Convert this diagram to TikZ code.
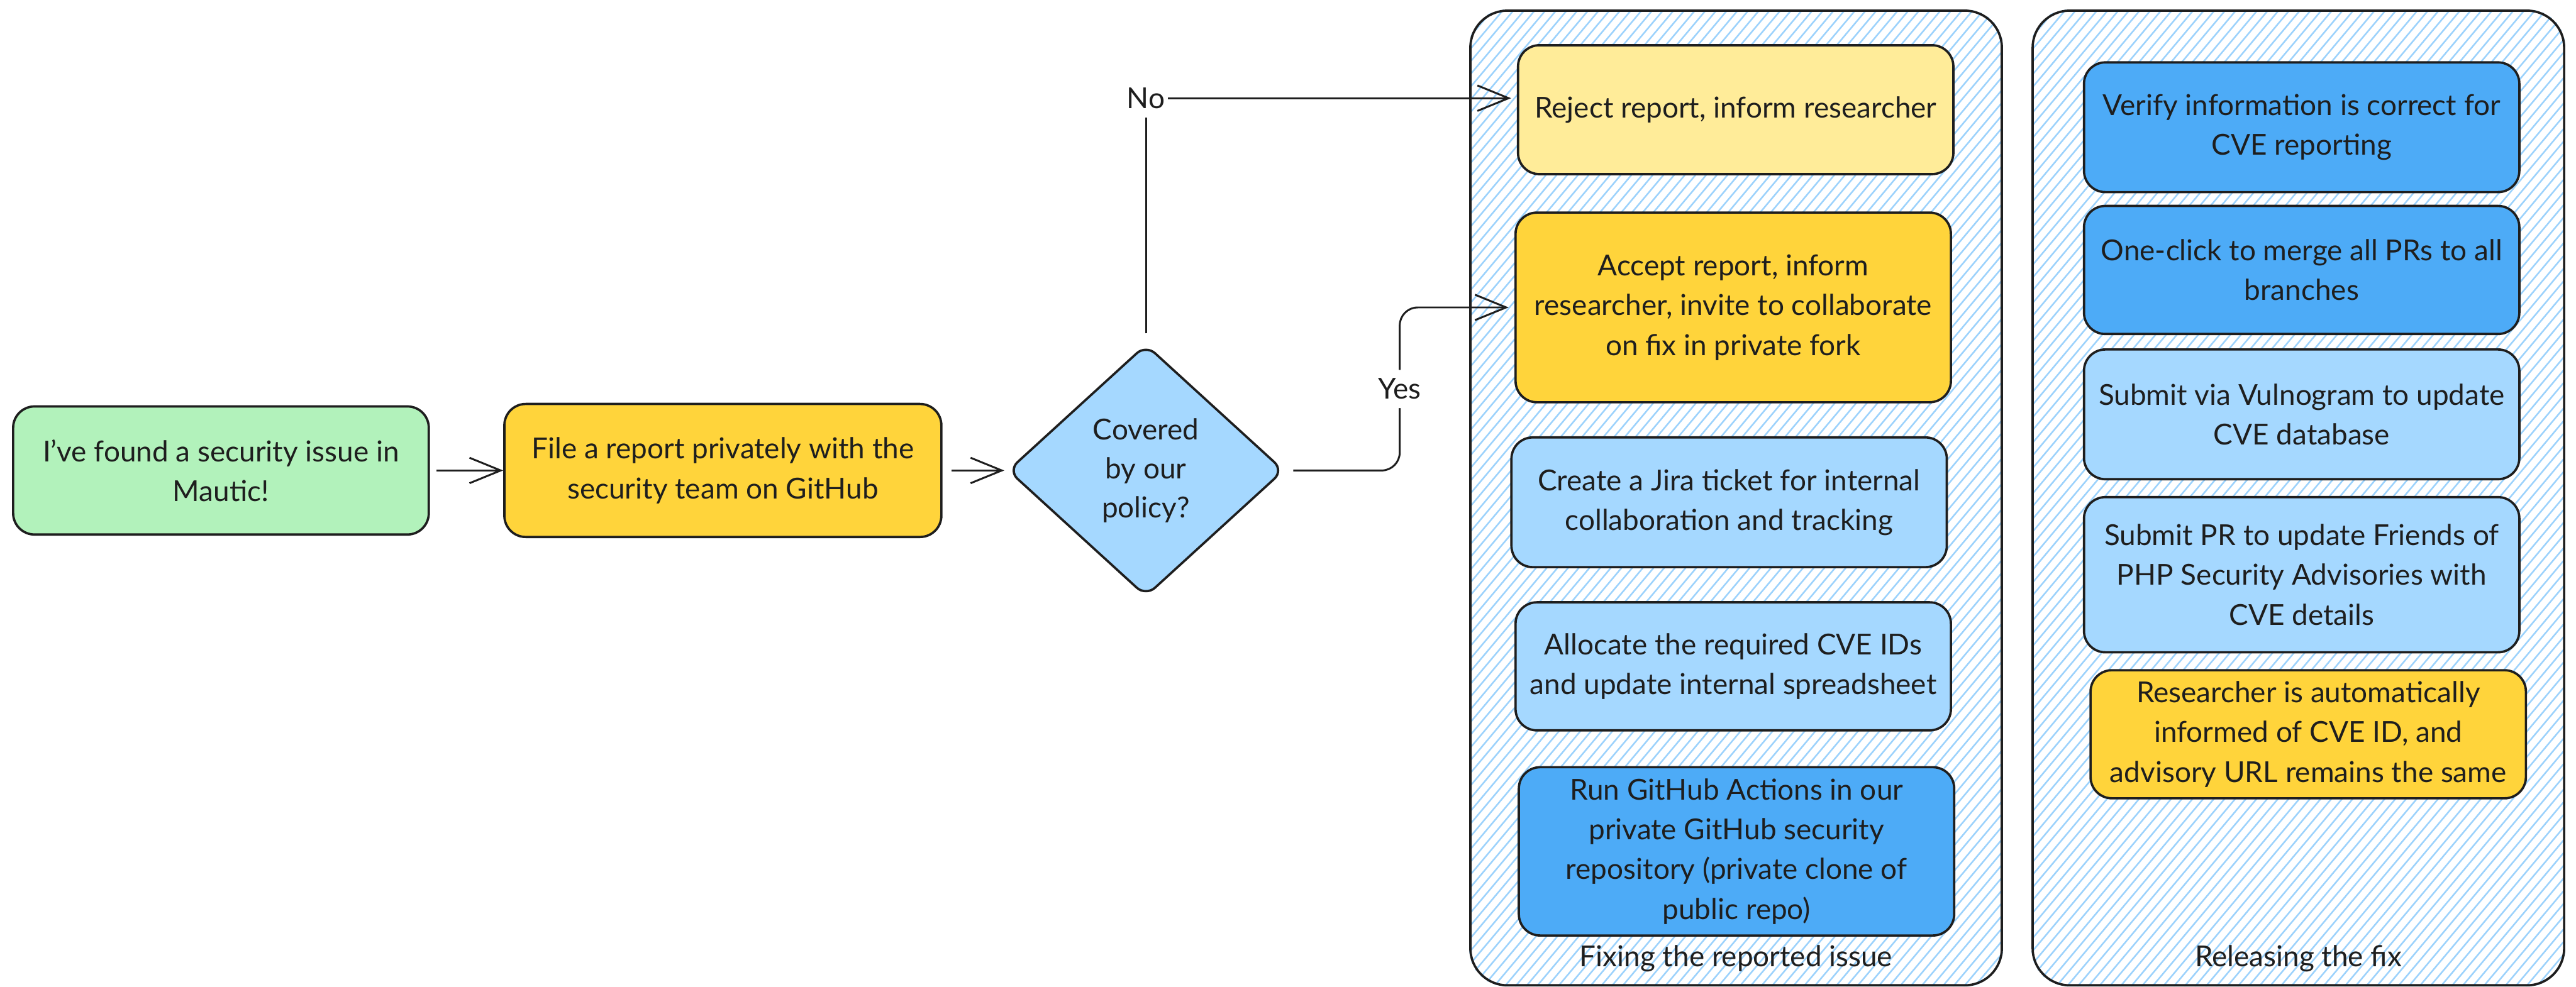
\documentclass[tikz,border=0pt]{standalone}
\usepackage{fontspec}
\setmainfont{Lato}
\usetikzlibrary{arrows.meta,positioning,shapes.geometric,calc,backgrounds}
\definecolor{ink}{HTML}{1E1E1E}
\definecolor{mint}{HTML}{B2F2BB}
\definecolor{amber}{HTML}{FFD43B}
\definecolor{cream}{HTML}{FFEC99}
\definecolor{sky}{HTML}{A5D8FF}
\definecolor{azure}{HTML}{4DABF7}
\definecolor{hatchblue}{HTML}{9CD2FC}

\begin{document}
\begin{tikzpicture}[
  card/.style={draw=ink, line width=0.8pt, rounded corners=0.26cm, align=center, text=ink,
    font=\fontsize{10}{13.8}\selectfont, inner sep=2pt, minimum width=5.3cm, minimum height=1.56cm},
  lane/.style={draw=ink, line width=0.8pt, rounded corners=0.45cm, minimum width=6.47cm, minimum height=11.87cm},
  decide/.style={diamond, draw=ink, fill=sky, line width=0.8pt, rounded corners=0.15cm, align=center,
    text=ink, font=\fontsize{10}{13.5}\selectfont, inner sep=0pt, minimum width=3.36cm, minimum height=3.07cm},
  lanelbl/.style={text=ink, font=\fontsize{10}{12}\selectfont},
  lbl/.style={fill=white, text=ink, font=\fontsize{10}{12}\selectfont, inner xsep=1pt, inner ysep=3pt},
  arrow/.style={-{Straight Barb[length=3.8mm, width=3.1mm]}, draw=ink, line width=0.65pt},
  hatchline/.style={draw=hatchblue, line width=0.55pt}]

\path[use as bounding box] (0,0) rectangle (31.36,12.02);

\node[lane] (fixC) at (21.135,5.955) {};
\node[lane] (relC) at (27.98,5.955) {};

\begin{scope}[on background layer]
  \fill[white] (0,0) rectangle (31.36,12.02);
  \foreach \lane in {fixC,relC} {
    \begin{scope}
      \clip[rounded corners=0.45cm] (\lane.south west) rectangle (\lane.north east);
      \foreach \k in {0,...,132}
        \draw[hatchline] ($(\lane.south west)+(\k*0.13-10.1,0)$) -- ++(10,11.9);
    \end{scope}
  }
\end{scope}

\node[card, fill=mint, minimum width=5.06cm] (found) at (2.69,6.29)
  {I've found a security issue in\\Mautic!};
\node[card, fill=amber, minimum width=5.32cm, minimum height=1.62cm] (report) at (8.80,6.29)
  {File a report privately with the\\security team on GitHub};
\node[decide] (decide) at (13.95,6.29) {Covered\\by our\\policy?};

\node[card, fill=cream, minimum height=1.57cm] (reject) at (21.13,10.684)
  {Reject report, inform researcher};
\node[card, fill=amber, minimum height=2.31cm, below=0.44cm of reject, xshift=-0.03cm]
  (accept) {Accept report, inform\\researcher, invite to collaborate\\on fix in private fork};
\node[card, fill=sky, minimum height=1.58cm, below=0.40cm of accept, xshift=-0.05cm]
  (jira) {Create a Jira ticket for internal\\collaboration and tracking};
\node[card, fill=sky, below=0.40cm of jira, xshift=0.05cm]
  (cveids) {Allocate the required CVE IDs\\and update internal spreadsheet};
\node[card, fill=azure, minimum height=2.05cm, below=0.42cm of cveids, xshift=0.04cm]
  (actions) {Run GitHub Actions in our\\private GitHub security\\repository (private clone of\\public repo)};
\node[lanelbl] (fixT) at ($(fixC.south)+(0,0.34)$) {Fixing the reported issue};

\node[card, fill=azure, minimum height=1.58cm] (verify) at (28.02,10.47)
  {Verify information is correct for\\CVE reporting};
\node[card, fill=azure, below=0.14cm of verify]
  (merge) {One-click to merge all PRs to all\\branches};
\node[card, fill=sky, minimum height=1.58cm, below=0.16cm of merge]
  (vulnogram) {Submit via Vulnogram to update\\CVE database};
\node[card, fill=sky, minimum height=1.89cm, below=0.19cm of vulnogram]
  (friends) {Submit PR to update Friends of\\PHP Security Advisories with\\CVE details};
\node[card, fill=amber, below=0.19cm of friends, xshift=0.08cm]
  (informed) {Researcher is automatically\\informed of CVE ID, and\\advisory URL remains the same};
\node[lanelbl] (relT) at ($(relC.south)+(0,0.34)$) {Releasing the fix};

\coordinate (yesbend) at ($(decide.east)!0.5!(accept.west)$);

\draw[arrow, shorten <=0.08cm] (found) -- (report);
\draw[arrow, shorten <=0.11cm, shorten >=0.03cm] (report) -- (decide);
\draw[arrow, shorten <=0.12cm, shorten >=0.07cm] (decide.north) |- node[lbl, pos=0.5] {No} ([yshift=0.14cm]reject.west);
\draw[arrow, rounded corners=0.22cm, shorten <=0.1cm, shorten >=0.07cm]
  (decide.east) -| (yesbend) node[lbl] {Yes} |- (accept.west);
\end{tikzpicture}
\end{document}
